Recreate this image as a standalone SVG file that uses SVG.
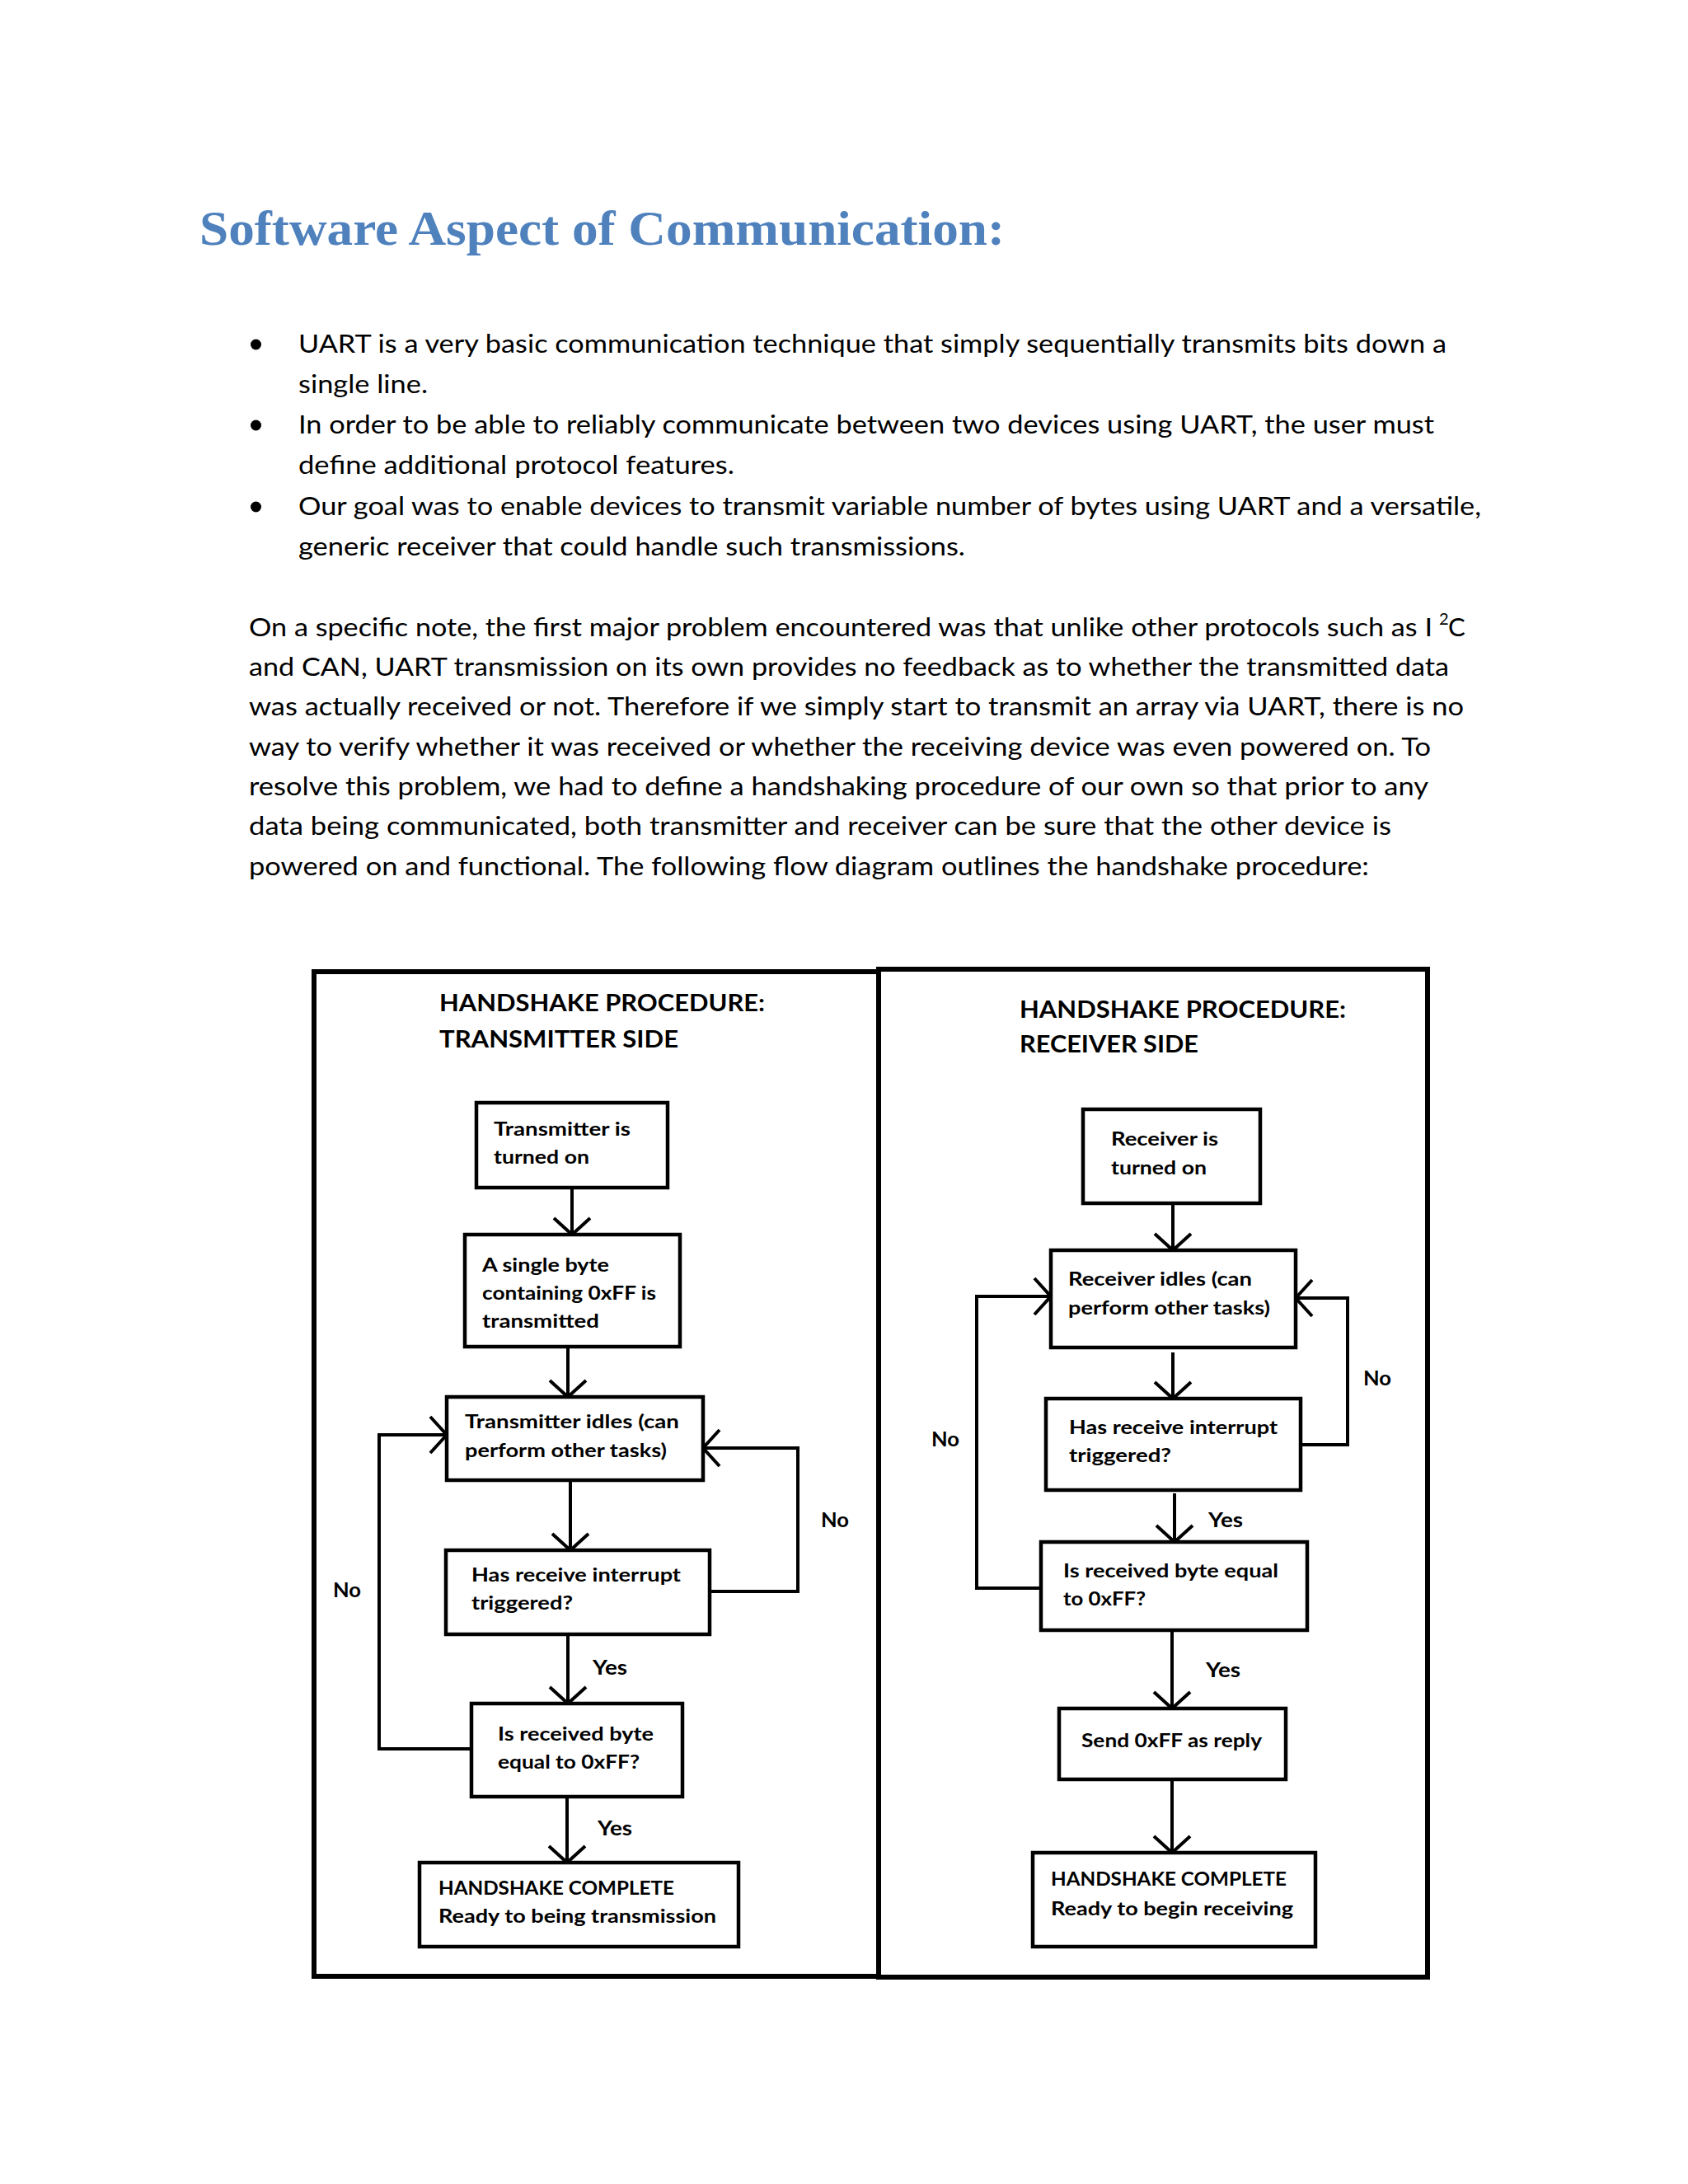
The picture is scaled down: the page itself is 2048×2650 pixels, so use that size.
<svg xmlns="http://www.w3.org/2000/svg" width="2048" height="2650" viewBox="0 0 2048 2650">
<style>
.title{font-family:"Liberation Serif","DejaVu Serif",serif;font-weight:bold;font-size:60px;fill:#4F81BD}
.body{font-family:Lato,"Liberation Sans",sans-serif;font-size:31px;fill:#000}
.sup{font-family:Lato,"Liberation Sans",sans-serif;font-size:20px;fill:#000}
.head{font-family:Lato,"Liberation Sans",sans-serif;font-weight:bold;font-size:29px;fill:#000}
.nt{font-family:Lato,"Liberation Sans",sans-serif;font-weight:bold;font-size:22px;fill:#000}
.lbl{font-family:Lato,"Liberation Sans",sans-serif;font-weight:bold;font-size:24px;fill:#000}
.box{fill:#fff;stroke:#000;stroke-width:4.5}
.frame{fill:none;stroke:#000;stroke-width:6}
.conn{fill:none;stroke:#000;stroke-width:4;marker-end:url(#arr)}
</style>
<defs>
<marker id="arr" markerUnits="userSpaceOnUse" viewBox="-26 -27 30 54" markerWidth="30" markerHeight="54" refX="0" refY="0" orient="auto" overflow="visible">
<path d="M-20,-22 L0,0 L-20,22" fill="none" stroke="#000" stroke-width="4"/>
</marker>
</defs>
<rect width="2048" height="2650" fill="#fff"/>
<g id="text-content">
<text class="title" x="242" y="297" textLength="977" lengthAdjust="spacingAndGlyphs">Software Aspect of Communication:</text>
<circle cx="310.5" cy="418" r="6.5" fill="#000"/>
<circle cx="310.5" cy="516" r="6.5" fill="#000"/>
<circle cx="310.5" cy="615" r="6.5" fill="#000"/>
<text class="body" x="362" y="428" textLength="1393" lengthAdjust="spacingAndGlyphs">UART is a very basic communication technique that simply sequentially transmits bits down a</text>
<text class="body" x="362" y="477" textLength="157" lengthAdjust="spacingAndGlyphs">single line.</text>
<text class="body" x="362" y="526" textLength="1378" lengthAdjust="spacingAndGlyphs">In order to be able to reliably communicate between two devices using UART, the user must</text>
<text class="body" x="362" y="575" textLength="529" lengthAdjust="spacingAndGlyphs">define additional protocol features.</text>
<text class="body" x="362" y="625" textLength="1435" lengthAdjust="spacingAndGlyphs">Our goal was to enable devices to transmit variable number of bytes using UART and a versatile,</text>
<text class="body" x="362" y="674" textLength="809" lengthAdjust="spacingAndGlyphs">generic receiver that could handle such transmissions.</text>
<text class="body" x="302" y="772" textLength="1436" lengthAdjust="spacingAndGlyphs">On a specific note, the first major problem encountered was that unlike other protocols such as I</text>
<text class="sup" x="1746" y="758">2</text>
<text class="body" x="1757" y="772">C</text>
<text class="body" x="302" y="820" textLength="1456" lengthAdjust="spacingAndGlyphs">and CAN, UART transmission on its own provides no feedback as to whether the transmitted data</text>
<text class="body" x="302" y="868" textLength="1474" lengthAdjust="spacingAndGlyphs">was actually received or not. Therefore if we simply start to transmit an array via UART, there is no</text>
<text class="body" x="302" y="917" textLength="1434" lengthAdjust="spacingAndGlyphs">way to verify whether it was received or whether the receiving device was even powered on. To</text>
<text class="body" x="302" y="965" textLength="1431" lengthAdjust="spacingAndGlyphs">resolve this problem, we had to define a handshaking procedure of our own so that prior to any</text>
<text class="body" x="302" y="1013" textLength="1386" lengthAdjust="spacingAndGlyphs">data being communicated, both transmitter and receiver can be sure that the other device is</text>
<text class="body" x="302" y="1062" textLength="1359" lengthAdjust="spacingAndGlyphs">powered on and functional. The following flow diagram outlines the handshake procedure:</text>
</g>
<g id="frames">
<rect class="frame" x="381" y="1179" width="685" height="1219"/>
<rect class="frame" x="1066" y="1176" width="666" height="1223"/>
<text class="head" x="533" y="1227" textLength="395" lengthAdjust="spacingAndGlyphs">HANDSHAKE PROCEDURE:</text>
<text class="head" x="533" y="1271" textLength="290" lengthAdjust="spacingAndGlyphs">TRANSMITTER SIDE</text>
<text class="head" x="1237" y="1235" textLength="396" lengthAdjust="spacingAndGlyphs">HANDSHAKE PROCEDURE:</text>
<text class="head" x="1237" y="1277" textLength="217" lengthAdjust="spacingAndGlyphs">RECEIVER SIDE</text>
</g>
<g id="connectors">
<path class="conn" d="M694,1441 V1498"/>
<path class="conn" d="M689,1634 V1695"/>
<path class="conn" d="M692,1796 V1881"/>
<path class="conn" d="M689,1983 V2067"/>
<path class="conn" d="M688,2180 V2260"/>
<path class="conn" d="M861,1931 H968 V1757 H853"/>
<path class="conn" d="M572,2122 H460 V1741 H542"/>
<path class="conn" d="M1423,1460 V1517"/>
<path class="conn" d="M1423,1641 V1697"/>
<path class="conn" d="M1425,1812 V1871"/>
<path class="conn" d="M1422,1978 V2073"/>
<path class="conn" d="M1422,2159 V2248"/>
<path class="conn" d="M1578,1753 H1635 V1575 H1572"/>
<path class="conn" d="M1263,1927 H1185 V1573 H1275"/>
<text class="lbl" x="719" y="2032" textLength="42" lengthAdjust="spacingAndGlyphs">Yes</text>
<text class="lbl" x="725" y="2227" textLength="42" lengthAdjust="spacingAndGlyphs">Yes</text>
<text class="lbl" x="996" y="1853" textLength="34" lengthAdjust="spacingAndGlyphs">No</text>
<text class="lbl" x="404" y="1938" textLength="34" lengthAdjust="spacingAndGlyphs">No</text>
<text class="lbl" x="1466" y="1853" textLength="42" lengthAdjust="spacingAndGlyphs">Yes</text>
<text class="lbl" x="1463" y="2035" textLength="42" lengthAdjust="spacingAndGlyphs">Yes</text>
<text class="lbl" x="1654" y="1681" textLength="34" lengthAdjust="spacingAndGlyphs">No</text>
<text class="lbl" x="1130" y="1755" textLength="34" lengthAdjust="spacingAndGlyphs">No</text>
</g>
<g id="tx-on">
<rect class="box" x="578" y="1338" width="232" height="103"/>
<text class="nt" x="599" y="1378" textLength="166" lengthAdjust="spacingAndGlyphs">Transmitter is</text>
<text class="nt" x="599" y="1412" textLength="116" lengthAdjust="spacingAndGlyphs">turned on</text>
</g>
<g id="tx-send">
<rect class="box" x="564" y="1498" width="261" height="136"/>
<text class="nt" x="585" y="1543" textLength="154" lengthAdjust="spacingAndGlyphs">A single byte</text>
<text class="nt" x="585" y="1577" textLength="211" lengthAdjust="spacingAndGlyphs">containing 0xFF is</text>
<text class="nt" x="585" y="1611" textLength="142" lengthAdjust="spacingAndGlyphs">transmitted</text>
</g>
<g id="tx-idle">
<rect class="box" x="542" y="1695" width="311" height="101"/>
<text class="nt" x="564" y="1733" textLength="260" lengthAdjust="spacingAndGlyphs">Transmitter idles (can</text>
<text class="nt" x="564" y="1768" textLength="245" lengthAdjust="spacingAndGlyphs">perform other tasks)</text>
</g>
<g id="tx-int">
<rect class="box" x="541" y="1881" width="320" height="102"/>
<text class="nt" x="572" y="1919" textLength="254" lengthAdjust="spacingAndGlyphs">Has receive interrupt</text>
<text class="nt" x="572" y="1953" textLength="123" lengthAdjust="spacingAndGlyphs">triggered?</text>
</g>
<g id="tx-check">
<rect class="box" x="572" y="2067" width="256" height="113"/>
<text class="nt" x="604" y="2112" textLength="189" lengthAdjust="spacingAndGlyphs">Is received byte</text>
<text class="nt" x="604" y="2146" textLength="172" lengthAdjust="spacingAndGlyphs">equal to 0xFF?</text>
</g>
<g id="tx-done">
<rect class="box" x="509" y="2260" width="387" height="102"/>
<text class="nt" x="532" y="2299" textLength="286" lengthAdjust="spacingAndGlyphs">HANDSHAKE COMPLETE</text>
<text class="nt" x="532" y="2333" textLength="337" lengthAdjust="spacingAndGlyphs">Ready to being transmission</text>
</g>
<g id="rx-on">
<rect class="box" x="1314" y="1346" width="215" height="114"/>
<text class="nt" x="1348" y="1390" textLength="130" lengthAdjust="spacingAndGlyphs">Receiver is</text>
<text class="nt" x="1348" y="1425" textLength="116" lengthAdjust="spacingAndGlyphs">turned on</text>
</g>
<g id="rx-idle">
<rect class="box" x="1275" y="1517" width="297" height="118"/>
<text class="nt" x="1296" y="1560" textLength="223" lengthAdjust="spacingAndGlyphs">Receiver idles (can</text>
<text class="nt" x="1296" y="1595" textLength="245" lengthAdjust="spacingAndGlyphs">perform other tasks)</text>
</g>
<g id="rx-int">
<rect class="box" x="1269" y="1697" width="309" height="111"/>
<text class="nt" x="1297" y="1740" textLength="253" lengthAdjust="spacingAndGlyphs">Has receive interrupt</text>
<text class="nt" x="1297" y="1774" textLength="124" lengthAdjust="spacingAndGlyphs">triggered?</text>
</g>
<g id="rx-check">
<rect class="box" x="1263" y="1871" width="323" height="107"/>
<text class="nt" x="1290" y="1914" textLength="261" lengthAdjust="spacingAndGlyphs">Is received byte equal</text>
<text class="nt" x="1290" y="1948" textLength="100" lengthAdjust="spacingAndGlyphs">to 0xFF?</text>
</g>
<g id="rx-reply">
<rect class="box" x="1285" y="2073" width="275" height="86"/>
<text class="nt" x="1312" y="2120" textLength="219" lengthAdjust="spacingAndGlyphs">Send 0xFF as reply</text>
</g>
<g id="rx-done">
<rect class="box" x="1253" y="2248" width="343" height="114"/>
<text class="nt" x="1275" y="2288" textLength="286" lengthAdjust="spacingAndGlyphs">HANDSHAKE COMPLETE</text>
<text class="nt" x="1275" y="2324" textLength="294" lengthAdjust="spacingAndGlyphs">Ready to begin receiving</text>
</g>
</svg>
